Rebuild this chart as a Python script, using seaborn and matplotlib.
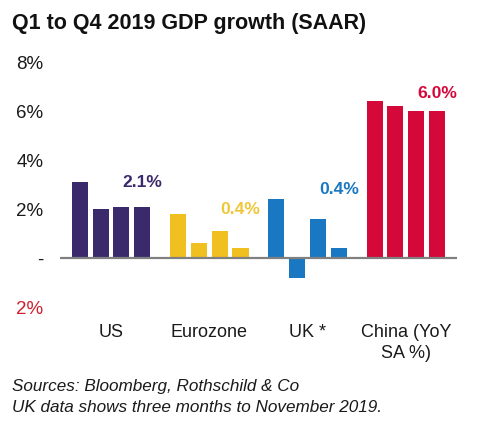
import matplotlib
matplotlib.use("Agg")
import matplotlib.pyplot as plt
import seaborn as sns
import pandas as pd

# ---- data ----
regions = ["US", "Eurozone", "UK *", "China (YoY\nSA %)"]
quarters = ["Q1", "Q2", "Q3", "Q4"]
us = [3.1, 2.0, 2.1, 2.1]
eurozone = [1.8, 0.6, 1.1, 0.4]
uk = [2.4, -0.8, 1.6, 0.4]
china = [6.4, 6.2, 6.0, 6.0]
region_colors = ["#3b2a6b", "#f0c020", "#1a78c2", "#d5083a"]
label_colors = ["#3b2a6b", "#f0c63a", "#1a78c2", "#d5083a"]
y_ticks = [-2, 0, 2, 4, 6, 8]
y_tick_labels = ["2%", "-", "2%", "4%", "6%", "8%"]
title = "Q1 to Q4 2019 GDP growth (SAAR)"
footer = ["Sources: Bloomberg, Rothschild & Co",
          "UK data shows three months to November 2019."]

series = [us, eurozone, uk, china]
rows = []
for r, vals in zip(regions, series):
    for q, v in zip(quarters, vals):
        rows.append({"region": r, "quarter": q, "value": v})
df = pd.DataFrame(rows)

sns.set_theme(style="white")
plt.rcParams["font.family"] = ["Liberation Sans", "DejaVu Sans"]

fig = plt.figure(figsize=(4.82, 4.34), dpi=100)
ax = fig.add_axes([0.1245, 0.2926, 0.948 - 0.1245, 0.8571 - 0.2926])

sns.barplot(data=df, x="region", y="value", hue="quarter", order=regions,
            hue_order=quarters, width=0.845, gap=0.227, palette=["gray"] * 4,
            legend=False, ax=ax, errorbar=None, saturation=1)

for cont in ax.containers:
    for bar, c in zip(cont, region_colors):
        bar.set_facecolor(c)
        bar.set_edgecolor(c)
        bar.set_linewidth(0)

ax.axhline(0, color="#808080", lw=1.6, zorder=5)

ax.set_ylim(-2, 8)
ax.set_xlim(-0.52, 3.52)
ax.set_yticks(y_ticks)
ax.set_yticklabels(y_tick_labels, fontsize=13.5)
for lbl, t in zip(ax.get_yticklabels(), y_ticks):
    lbl.set_color("#d01f2e" if t < 0 else "#1a1a1a")
ax.tick_params(axis="y", length=0, pad=12)
ax.tick_params(axis="x", length=0, pad=12, labelsize=13, labelcolor="#1a1a1a")
for lbl in ax.get_xticklabels():
    lbl.set_linespacing(1.3)
ax.set_xlabel("")
ax.set_ylabel("")
for s in ax.spines.values():
    s.set_visible(False)

# annotations above last bar of each group
ann_y = [3.1, 2.0, 2.8, 6.73]
last_bars = ax.containers[-1]
for i, (vals, bar) in enumerate(zip(series, last_bars)):
    xc = bar.get_x() + bar.get_width() / 2
    ax.text(xc, ann_y[i], f"{vals[-1]:.1f}%", ha="center", va="center",
            fontsize=12.6, fontweight="bold", color=label_colors[i])

fig.text(12 / 482, 1 - 23 / 434, title, fontsize=15.5, fontweight="bold",
         ha="left", va="center", color="#111111")
fig.text(12 / 482, 1 - 387 / 434, footer[0], fontsize=12.3, style="italic",
         ha="left", va="center", color="#1a1a1a")
fig.text(12 / 482, 1 - 408 / 434, footer[1], fontsize=12.3, style="italic",
         ha="left", va="center", color="#1a1a1a")

fig.savefig("out.png", dpi=100)
